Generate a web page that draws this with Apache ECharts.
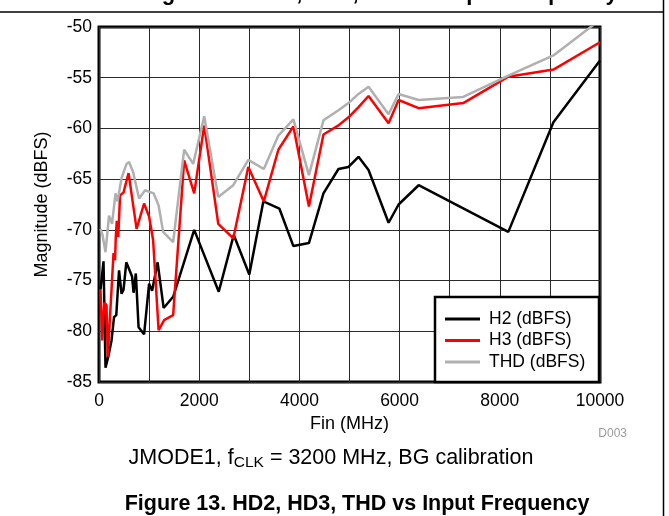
<!DOCTYPE html>
<html>
<head>
<meta charset="utf-8">
<script src="https://cdn.jsdelivr.net/npm/echarts@6/dist/echarts.min.js"></script>
<style>
html,body{margin:0;padding:0;background:#fff;}
#chart{width:669px;height:516px;}
</style>
</head>
<body>
<div id="chart"></div>
<script>
// ---- data ----
const freqH2 = [30,90,130,185,250,300,345,400,450,490,545,620,660,690,735,790,900,1000,1060,1170,1290,1480,1900,2390,2690,3000,3280,3600,3880,4190,4480,4780,4980,5180,5380,5780,5980,6380,8170,9070,10000];
const valH2  = [-75.9,-73.1,-83.6,-82.5,-80.9,-78.6,-78.4,-74.0,-76.3,-75.9,-73.2,-74.1,-74.6,-76.2,-74.3,-79.6,-80.3,-75.3,-76.0,-73.2,-77.7,-76.6,-70.0,-76.1,-70.5,-74.4,-67.2,-67.9,-71.6,-71.3,-66.4,-64.0,-63.8,-62.8,-64.1,-69.3,-67.5,-65.6,-70.2,-59.4,-53.3];

const freqH3 = [30,65,105,150,175,250,290,320,335,355,385,420,490,590,750,900,1000,1080,1190,1300,1480,1700,1900,2100,2380,2680,2980,3290,3580,3880,4190,4480,4780,4980,5180,5380,5780,5980,6380,7270,8170,9070,10000];
const valH3  = [-75.9,-80.9,-77.2,-77.4,-82.5,-75.9,-72.3,-73.0,-70.7,-69.1,-70.7,-66.6,-66.3,-64.4,-69.9,-67.4,-68.7,-71.0,-79.9,-78.9,-78.4,-63.15,-66.4,-59.7,-69.4,-70.85,-63.8,-67.2,-62.1,-59.8,-67.7,-60.6,-59.7,-58.9,-57.9,-56.8,-59.5,-57.2,-58.0,-57.5,-54.9,-54.2,-51.5];

const freqTHD = [30,70,130,200,260,330,370,450,550,600,680,800,920,1090,1190,1280,1480,1700,1880,2100,2380,2680,2980,3290,3580,3880,4190,4480,4780,4980,5180,5380,5780,5980,6380,7270,8170,9070,10000];
const valTHD  = [-69.9,-70.5,-72.2,-68.6,-69.4,-66.4,-67.2,-64.9,-63.5,-63.3,-64.3,-66.9,-66.1,-66.4,-67.6,-70.2,-71.2,-62.1,-63.5,-58.8,-66.75,-65.6,-63.1,-64.0,-60.7,-59.1,-64.6,-59.2,-58.2,-57.5,-56.6,-55.9,-58.6,-56.6,-57.2,-56.9,-54.8,-52.8,-49.3];

const seriesNames = ['H2 (dBFS)','H3 (dBFS)','THD (dBFS)'];
const xTickLabels = ['0','2000','4000','6000','8000','10000'];
const yTickLabels = ['-85','-80','-75','-70','-65','-60','-55','-50'];

const xAxisName = 'Fin (MHz)';
const yAxisName = 'Magnitude (dBFS)';
const noteText = 'D003';
const captionText = 'Figure 13. HD2, HD3, THD vs Input Frequency';
const topFragmentText = 'Figure 12. HD2, HD3, THD vs Input Frequency';

// ---- build ----
const zip = (xs, ys) => xs.map((x, i) => [x, ys[i]]);
const FONT = '"Liberation Sans", Arial, sans-serif';

const chart = echarts.init(document.getElementById('chart'), null, {renderer: 'canvas'});
chart.setOption({
  animation: false,
  backgroundColor: '#fff',
  textStyle: {fontFamily: FONT, color: '#000'},
  grid: {left: 99, right: 69, top: 27, bottom: 134, show: true, borderColor: '#000', borderWidth: 3, backgroundColor: 'transparent'},
  xAxis: {
    type: 'value', min: 0, max: 10000, interval: 1000,
    axisLine: {show: false}, axisTick: {show: false},
    splitLine: {show: true, lineStyle: {color: '#2a2a2a', width: 1}},
    axisLabel: {
      fontSize: 17.5, color: '#000', fontFamily: FONT, margin: 10,
      formatter: v => xTickLabels.indexOf(String(v)) >= 0 ? String(v) : ''
    },
    name: xAxisName, nameLocation: 'middle', nameGap: 31,
    nameTextStyle: {fontSize: 18, color: '#000', fontFamily: FONT}
  },
  yAxis: {
    type: 'value', min: -85, max: -50, interval: 5,
    axisLine: {show: false}, axisTick: {show: false},
    splitLine: {show: true, lineStyle: {color: '#2a2a2a', width: 1}},
    axisLabel: {
      fontSize: 17.5, color: '#000', fontFamily: FONT, margin: 7,
      formatter: v => yTickLabels.indexOf(String(v)) >= 0 ? String(v) : ''
    },
    name: yAxisName, nameLocation: 'middle', nameGap: 48, nameRotate: 90,
    nameTextStyle: {fontSize: 18, color: '#000', fontFamily: FONT}
  },
  legend: {
    orient: 'vertical', left: 440, top: 305, z: 20,
    icon: 'rect', itemWidth: 35, itemHeight: 3, itemGap: 3.5,
    textStyle: {fontSize: 17.5, lineHeight: 18, color: '#000', fontFamily: FONT, padding: [0, 0, 0, 4]},
    data: seriesNames
  },
  series: [
    {name: seriesNames[0], type: 'line', data: zip(freqH2, valH2), symbol: 'none', color: '#000000', lineStyle: {width: 2.5, color: '#000000'}, z: 3},
    {name: seriesNames[1], type: 'line', data: zip(freqH3, valH3), symbol: 'none', color: '#ff0000', lineStyle: {width: 2.5, color: '#ff0000'}, z: 3},
    {name: seriesNames[2], type: 'line', data: zip(freqTHD, valTHD), symbol: 'none', color: '#b0b0b0', lineStyle: {width: 2.5, color: '#b0b0b0'}, z: 3}
  ],
  graphic: [
    {type: 'rect', z: 10, shape: {x: 435, y: 297, width: 164, height: 85}, style: {fill: '#fff', stroke: '#000', lineWidth: 2.5}},
    {type: 'line', z: 10, shape: {x1: 0, y1: 12, x2: 663, y2: 12}, style: {stroke: '#000', lineWidth: 1.5}},
    {type: 'line', z: 10, shape: {x1: 663.5, y1: 0, x2: 663.5, y2: 516}, style: {stroke: '#000', lineWidth: 1.5}},
    {type: 'text', z: 10, x: 380, y: -6, style: {text: topFragmentText, fontSize: 22, fontWeight: 'bold', fontFamily: FONT, fill: '#000', align: 'center', verticalAlign: 'middle'}},
    {type: 'text', z: 10, x: 627, y: 434, style: {text: noteText, fontSize: 12, fontFamily: FONT, fill: '#9a9a9a', align: 'right', verticalAlign: 'middle'}},
    {type: 'text', z: 10, x: 331, y: 458, style: {
      text: '{a|JMODE1, f}{b|CLK}{a| = 3200 MHz, BG calibration}',
      align: 'center', verticalAlign: 'middle',
      rich: {
        a: {fontSize: 21.5, fontFamily: FONT, fill: '#000', lineHeight: 24},
        b: {fontSize: 15.5, fontFamily: FONT, fill: '#000', lineHeight: 16, padding: [10, 0, 0, 0]}
      }
    }},
    {type: 'text', z: 10, x: 357, y: 504, style: {text: captionText, fontSize: 21.5, fontWeight: 'bold', fontFamily: FONT, fill: '#000', align: 'center', verticalAlign: 'middle'}}
  ]
});
</script>
</body>
</html>
